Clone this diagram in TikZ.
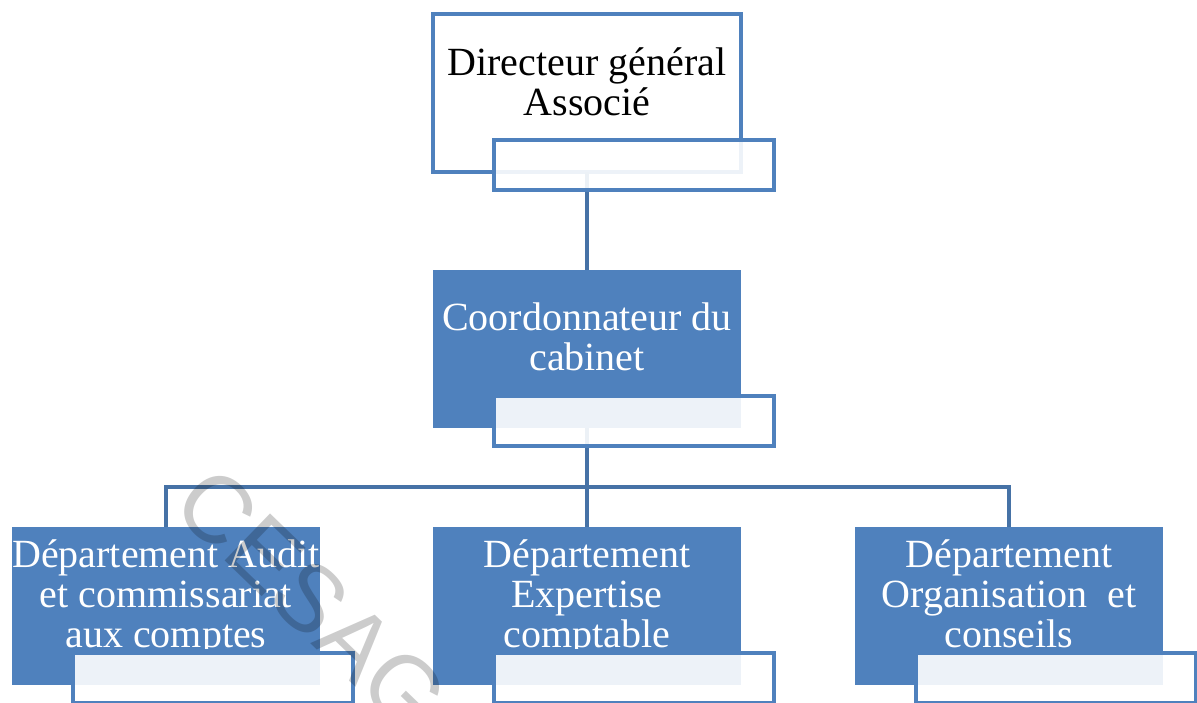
\documentclass[tikz,border=0pt]{standalone}
\usepackage{fontspec}
\setmainfont{Liberation Serif}
\newfontfamily\markfont{Liberation Sans}
\usetikzlibrary{positioning,calc}
\definecolor{unitblue}{HTML}{4F81BD}
\definecolor{linkblue}{HTML}{4672A6}
\tikzset{
  unitbox/.style={minimum width=308pt, minimum height=158pt, inner sep=0pt, outer sep=0pt},
  headbox/.style={unitbox, draw=unitblue, line width=4pt, fill=white},
  deptbox/.style={unitbox, fill=unitblue},
  tagbox/.style={draw=unitblue, line width=4pt, fill=white, fill opacity=0.9,
    minimum width=280pt, minimum height=50pt, inner sep=0pt, outer sep=0pt, anchor=north west},
  unittext/.style={align=center, anchor=base, inner sep=0pt, text=white,
    font=\fontsize{40}{40}\selectfont},
  link/.style={draw=linkblue, line width=4pt},
}
\begin{document}
\begin{tikzpicture}[x=1pt,y=-1pt]
\useasboundingbox (0,0) rectangle (1197,702);
\clip (0,0) rectangle (1197,702);
% boxes
\node[headbox, anchor=north west] (dg) at (433,14) {};
\node[deptbox, below=98pt of dg] (coord) {};
\node[deptbox, below=99pt of coord] (expert) {};
\node[deptbox, left=113pt of expert] (audit) {};
\node[deptbox, right=114pt of expert] (orga) {};
% texts (base = last line)
\node[unittext, text=black] (dg-text) at ($(dg.north)+(0,101)$) {Directeur général\\Associé};
\node[unittext] (coord-text) at ($(coord.north)+(0,100)$) {Coordonnateur du\\cabinet};
\begin{scope}
\clip (0,0) rectangle (1197,648);
\node[unittext] (audit-text) at ($(audit.north)+(0,120)$) {Département Audit\\et commissariat\\aux comptes};
\node[unittext] (expert-text) at ($(expert.north)+(0,120)$) {Département\\Expertise\\comptable};
\node[unittext] (orga-text) at ($(orga.north)+(0,120)$) {Département\\Organisation\ \ et\\conseils};
\end{scope}
% links
\draw[link] (dg.south) -- (coord.north);
\coordinate (bus) at ($(coord.south)+(0,59)$);
\draw[link] (coord.south) -- (bus);
\foreach \dept in {audit,expert,orga}
  \draw[link] (bus) -| (\dept.north);
% tags
\foreach \unit in {dg,coord,audit,expert,orga}
  \node[tagbox] (\unit-tag) at ($(\unit.south west)+(61,-32)$) {};
% watermark
\node[font=\markfont\fontsize{95}{95}\selectfont, text=black, text opacity=0.2,
  rotate=-44] (mark) at (312,600) {CESAG};
\end{tikzpicture}
\end{document}
